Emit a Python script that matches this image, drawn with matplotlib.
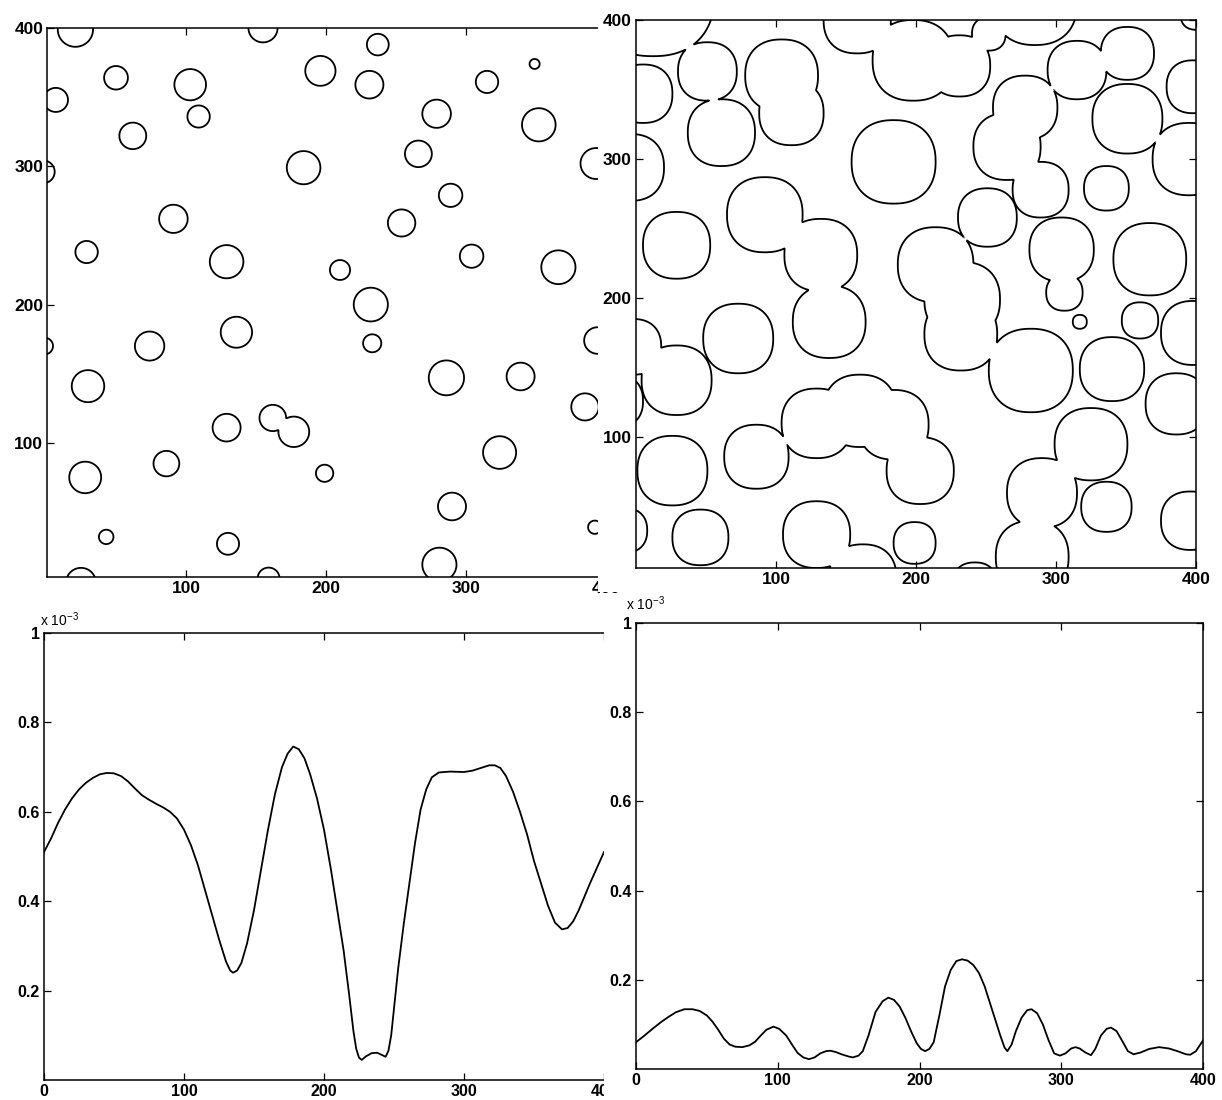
import numpy as np
import matplotlib
matplotlib.use('Agg')
import matplotlib.pyplot as plt
from matplotlib.patches import Rectangle

plt.rcParams['font.family'] = ['Liberation Sans', 'DejaVu Sans']

# ---------------- data ----------------
# top-left: circles (x, y, radius)
tl_x = [21, 50, 103, 109, 62, 7, -2, 155, 196, 184, 91, 29, 129, 237, 231, 349, 315, 279, 352, 266,
        393, 289, 254, 304, 210, 366, 232, 136, 74, -1, 30, 129, 162, 177, 86, 28, 43, 130, 25, 159,
        199, 233, 286, 339, 394, 385, 324, 290, 392, 281, 278]
tl_y = [399, 364, 359, 336, 322, 348, 296, 400, 369, 299, 262, 238, 231, 388, 359, 374, 361, 338, 330, 309,
        302, 279, 259, 235, 225, 227, 200, 180, 170, 170, 141, 111, 118, 108, 85, 75, 32, 27, -1, 2,
        78, 172, 147, 148, 174, 126, 93, 54, 39, 12, 413]
tl_r = [12.6, 8.5, 11.3, 8, 9.6, 8.7, 8.2, 10.4, 10.8, 12, 10.2, 8, 12, 7.8, 10, 3.6, 8, 10.2, 12, 9.6,
        11.2, 8.4, 9.8, 8.4, 7.2, 12.2, 12.2, 11.2, 10.5, 6, 11.6, 10, 9.5, 11, 9.2, 11.4, 5.2, 7.9, 10.6, 7.8,
        6.2, 6.5, 12.6, 10, 9.6, 9.8, 11.8, 10, 4.8, 12.2, 12]

# top-right: merged lobes (x, y, radius)
tr_x = [12, 51, 61, 104, 111, 5, -4, 158, 198, 184, 29, 92, 132, -2, 29, 73, -14, 138, 86, 129,
        160, 184, 203, 26, 46, -8, 129, 162, 199, 231, 252, 285, 315, 351, 278, 265, 289, 251, 336, 351,
        395, 398, 304, 306, 317, 367, 214, 233, 232, 282, 340, 360, 398, 386, 325, 290, 283, 336, 396, 242,
        400]
tr_y = [418, 363, 319, 360, 333, 347, 294, 400, 371, 298, 238, 260, 231, 165, 141, 171, 126, 183, 86, 110,
        119, 109, 76, 76, 28, 33, 30, -1, 24, 367, 390, 412, 364, 376, 337, 309, 278, 258, 279, 329,
        300, 352, 235, 204, 183, 228, 224, 199, 174, 148, 149, 184, 175, 124, 95, 60, 14, 50, 40, -6,
        404]
tr_r = [44, 21, 24, 26, 23, 21, 24, 24, 29, 30, 24, 27, 26, 20, 25, 25, 19, 26, 23, 25,
        26, 25, 24, 25, 20, 16, 24, 24, 15, 22, 12, 30, 21, 19, 23, 24, 20, 21, 16, 25,
        26, 19, 23, 13, 5, 26, 27, 27, 26, 30, 23, 13, 23, 22, 26, 25, 26, 18, 21, 16,
        11]

# bottom-left profile (values in units of 1e-3)
bl_x = [0, 5, 10, 15, 20, 25, 30, 35, 40, 45, 50, 55, 60, 65, 70, 75, 80, 85, 90, 95,
        100, 105, 110, 115, 120, 125, 130, 133, 135, 138, 141, 145, 150, 155, 160, 165, 170, 174, 178, 182,
        186, 190, 195, 200, 205, 210, 214, 218, 221, 223, 225, 227, 230, 234, 238, 242, 244, 246, 248, 250,
        253, 257, 261, 265, 269, 273, 277, 282, 290, 300, 306, 312, 318, 322, 326, 330, 335, 340, 345, 350,
        355, 360, 365, 370, 374, 378, 382, 386, 390, 395, 400]
bl_y = [0.51, 0.54, 0.575, 0.605, 0.63, 0.65, 0.665, 0.676, 0.684, 0.687, 0.686, 0.68, 0.668, 0.652, 0.637, 0.627, 0.618, 0.61, 0.60, 0.585,
        0.56, 0.525, 0.48, 0.425, 0.37, 0.315, 0.265, 0.245, 0.24, 0.245, 0.262, 0.305, 0.38, 0.47, 0.56, 0.64, 0.70, 0.73, 0.746, 0.74,
        0.72, 0.685, 0.63, 0.56, 0.47, 0.37, 0.29, 0.19, 0.11, 0.07, 0.05, 0.045, 0.053, 0.06, 0.061, 0.055, 0.052, 0.065, 0.10, 0.16,
        0.25, 0.35, 0.44, 0.53, 0.605, 0.65, 0.677, 0.688, 0.69, 0.689, 0.692, 0.698, 0.704, 0.704, 0.698, 0.68, 0.645, 0.60, 0.55, 0.49,
        0.44, 0.39, 0.352, 0.337, 0.34, 0.355, 0.38, 0.41, 0.44, 0.475, 0.51]

# bottom-right profile (values in units of 1e-3)
br_x = [0, 6, 12, 18, 23, 28, 34, 40, 45, 50, 54, 58, 62, 66, 70, 75, 80, 84, 88, 92,
        97, 101, 106, 110, 114, 118, 122, 126, 130, 134, 137, 141, 145, 150, 153, 157, 160, 164, 169, 174,
        178, 182, 186, 190, 194, 198, 201, 204, 207, 210, 214, 218, 222, 226, 230, 234, 238, 242, 246, 250,
        254, 257, 260, 262, 265, 268, 272, 276, 279, 283, 287, 291, 295, 299, 303, 307, 310, 313, 317, 321,
        324, 328, 332, 335, 339, 343, 347, 351, 356, 362, 369, 376, 382, 388, 391, 395, 400]
br_y = [0.06, 0.075, 0.091, 0.106, 0.117, 0.127, 0.134, 0.134, 0.13, 0.12, 0.106, 0.088, 0.068, 0.055, 0.05, 0.049, 0.053, 0.061, 0.075, 0.088,
        0.095, 0.09, 0.075, 0.055, 0.036, 0.026, 0.022, 0.026, 0.035, 0.04, 0.041, 0.038, 0.033, 0.028, 0.026, 0.03, 0.04, 0.075, 0.128, 0.152,
        0.16, 0.155, 0.14, 0.115, 0.085, 0.058, 0.045, 0.04, 0.045, 0.06, 0.12, 0.185, 0.222, 0.242, 0.246, 0.243, 0.233, 0.215, 0.185, 0.145,
        0.105, 0.075, 0.048, 0.04, 0.055, 0.085, 0.115, 0.132, 0.134, 0.125, 0.10, 0.065, 0.035, 0.03, 0.035, 0.046, 0.049, 0.046, 0.037, 0.031,
        0.045, 0.075, 0.09, 0.093, 0.085, 0.063, 0.04, 0.033, 0.037, 0.045, 0.049, 0.046, 0.04, 0.033, 0.032, 0.04, 0.064]

map_ticks = [100, 200, 300, 400]
prof_xticks = [0, 100, 200, 300, 400]
prof_yticks = [0.2, 0.4, 0.6, 0.8, 1.0]
prof_ylabels = ['0.2', '0.4', '0.6', '0.8', '1']
exp_label = r'x 10$^{\mathregular{-3}}$'

# ---------------- figure ----------------
W, H = 1222, 1100
fig = plt.figure(figsize=(W / 100, H / 100), dpi=100)
fig.patch.set_facecolor('white')


def px_axes(left, top, right, bottom, z=0):
    ax = fig.add_axes([left / W, 1 - bottom / H, (right - left) / W, (bottom - top) / H])
    ax.set_zorder(z)
    return ax


def style(ax, fs, right=True):
    ax.tick_params(direction='in', length=5, width=0.9, top=True, right=right,
                   labelsize=fs, pad=3, colors='black')
    for lbl in ax.get_xticklabels() + ax.get_yticklabels():
        lbl.set_fontweight('bold')
    for s in ax.spines.values():
        s.set_linewidth(1.1)


def blobs(ax, xs, ys, rs, p):
    g = np.linspace(-40, 440, 961)
    X, Y = np.meshgrid(g, g)
    F = np.full(X.shape, np.inf)
    for cx, cy, r in zip(xs, ys, rs):
        d = (np.abs(X - cx) ** p + np.abs(Y - cy) ** p) ** (1.0 / p) - r
        F = np.minimum(F, d)
    ax.contour(X, Y, F, levels=[0], colors='black', linewidths=1.3)


# top-left
ax1 = px_axes(47.4, 28, 606, 577, 0)
blobs(ax1, tl_x, tl_y, tl_r, 2.0)
ax1.set_xlim(1, 400)
ax1.set_ylim(3, 400)
ax1.set_xticks(map_ticks)
ax1.set_yticks(map_ticks)
style(ax1, 12.5, right=False)
ax1.spines['right'].set_visible(False)

# top-right
ax2 = px_axes(636, 20, 1196, 568, 2)
blobs(ax2, tr_x, tr_y, tr_r, 2.3)
ax2.set_xlim(0, 400)
ax2.set_ylim(6, 400)
ax2.set_xticks(map_ticks)
ax2.set_yticks(map_ticks)
style(ax2, 12.5)

# bottom-left
ax3 = px_axes(44, 633, 604, 1080, 0)
ax3.plot(bl_x, bl_y, color='black', lw=1.3)
ax3.set_xlim(0, 400)
ax3.set_ylim(0, 1)
ax3.set_xticks(prof_xticks)
ax3.set_yticks(prof_yticks)
ax3.set_yticklabels(prof_ylabels)
style(ax3, 11.5, right=False)
ax3.spines['right'].set_visible(False)
ax3.text(-0.008, 1.008, exp_label, transform=ax3.transAxes, ha='left', va='bottom', fontsize=10)

# bottom-right
ax4 = px_axes(636, 623, 1203, 1069, 2)
ax4.plot(br_x, br_y, color='black', lw=1.3)
ax4.set_xlim(0, 400)
ax4.set_ylim(0, 1)
ax4.set_xticks(prof_xticks)
ax4.set_yticks(prof_yticks)
ax4.set_yticklabels(prof_ylabels)
style(ax4, 11.5)
ax4.text(-0.018, 1.022, exp_label, transform=ax4.transAxes, ha='left', va='bottom', fontsize=10)

# white strips where the right panels cover the left ones
fig.add_artist(Rectangle((598 / W, 1 - 592 / H), (636 - 598) / W, 592 / H, transform=fig.transFigure,
                         facecolor='white', edgecolor='none', zorder=1))
fig.add_artist(Rectangle((604 / W, 0), (636 - 604) / W, 1 - 600 / H, transform=fig.transFigure,
                         facecolor='white', edgecolor='none', zorder=1))

fig.savefig('out.png', dpi=100, facecolor='white')
